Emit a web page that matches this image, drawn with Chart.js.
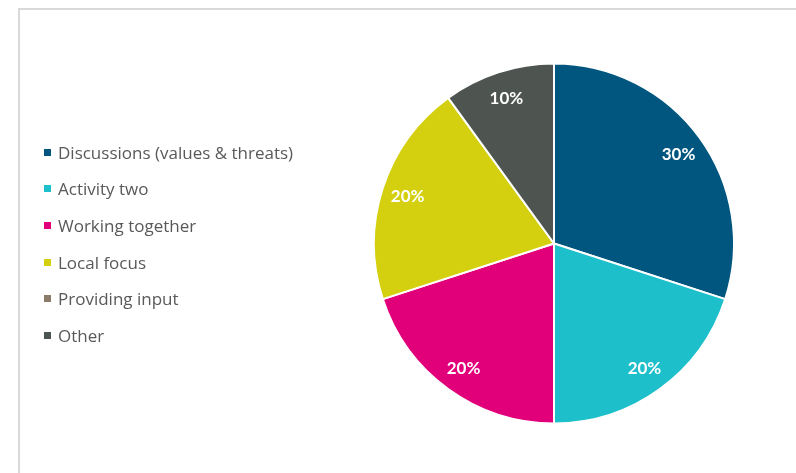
<!DOCTYPE html>
<html>
<head>
<meta charset="utf-8">
<script src="https://cdn.jsdelivr.net/npm/chart.js@4/dist/chart.umd.min.js"></script>
<style>
  html, body { margin: 0; padding: 0; background: #ffffff; }
  #wrap { position: relative; width: 796px; height: 473px; overflow: hidden; }
  #frame { position: absolute; left: 18px; top: 8px; width: 800px; height: 500px;
           border-left: 2px solid #d9d9d9; border-top: 2px solid #d9d9d9; box-sizing: border-box; }
  #chart { position: absolute; left: 0; top: 0; }
  #legend { position: absolute; left: 44px; top: 134px; margin: 0; padding: 0; list-style: none;
            font-family: "Open Sans", Lato, sans-serif; font-size: 17px; color: #595959; }
  #legend li { height: 36.6px; display: flex; align-items: center; white-space: nowrap; }
  #legend .box { width: 7px; height: 7px; margin-right: 7px; flex: none; }
</style>
</head>
<body>
<div id="wrap">
  <div id="frame"></div>
  <canvas id="chart" width="796" height="473"></canvas>
  <ul id="legend"></ul>
</div>
<script>
// Share of time spent per activity
const categories = [
  "Discussions (values & threats)",
  "Activity two",
  "Working together",
  "Local focus",
  "Providing input",
  "Other"
];
const shares = [30, 20, 20, 20, 0, 10];
const sliceColors = ["#00567f", "#1dbfcb", "#e2007a", "#d4d00f", "#8b7b6b", "#4e5550"];

// Legend as plain HTML list
const legendEl = document.getElementById("legend");
categories.forEach((name, i) => {
  const li = document.createElement("li");
  const box = document.createElement("span");
  box.className = "box";
  box.style.background = sliceColors[i];
  li.appendChild(box);
  li.appendChild(document.createTextNode(name));
  legendEl.appendChild(li);
});

// Percentage labels inside each non-empty slice
const sliceLabels = {
  id: "sliceLabels",
  afterDatasetsDraw(chart) {
    const { ctx } = chart;
    const meta = chart.getDatasetMeta(0);
    ctx.save();
    ctx.font = "bold 17px Lato, 'Open Sans', sans-serif";
    ctx.fillStyle = "#ffffff";
    ctx.textAlign = "center";
    ctx.textBaseline = "middle";
    meta.data.forEach((arc, i) => {
      const v = shares[i];
      if (!v) return;
      const { x, y, startAngle, endAngle, outerRadius } = arc.getProps(["x", "y", "startAngle", "endAngle", "outerRadius"], true);
      const mid = (startAngle + endAngle) / 2;
      const r = outerRadius * 0.855;
      ctx.fillText(v + "%", x + Math.cos(mid) * r, y + Math.sin(mid) * r + 1);
    });
    ctx.restore();
  }
};

new Chart(document.getElementById("chart"), {
  type: "pie",
  data: {
    labels: categories,
    datasets: [{
      data: shares,
      backgroundColor: sliceColors,
      borderColor: "#ffffff",
      borderWidth: 2
    }]
  },
  options: {
    responsive: false,
    animation: false,
    layout: { padding: { left: 373, right: 61, top: 62, bottom: 48 } },
    plugins: {
      legend: { display: false },
      tooltip: { enabled: false }
    }
  },
  plugins: [sliceLabels]
});
</script>
</body>
</html>
